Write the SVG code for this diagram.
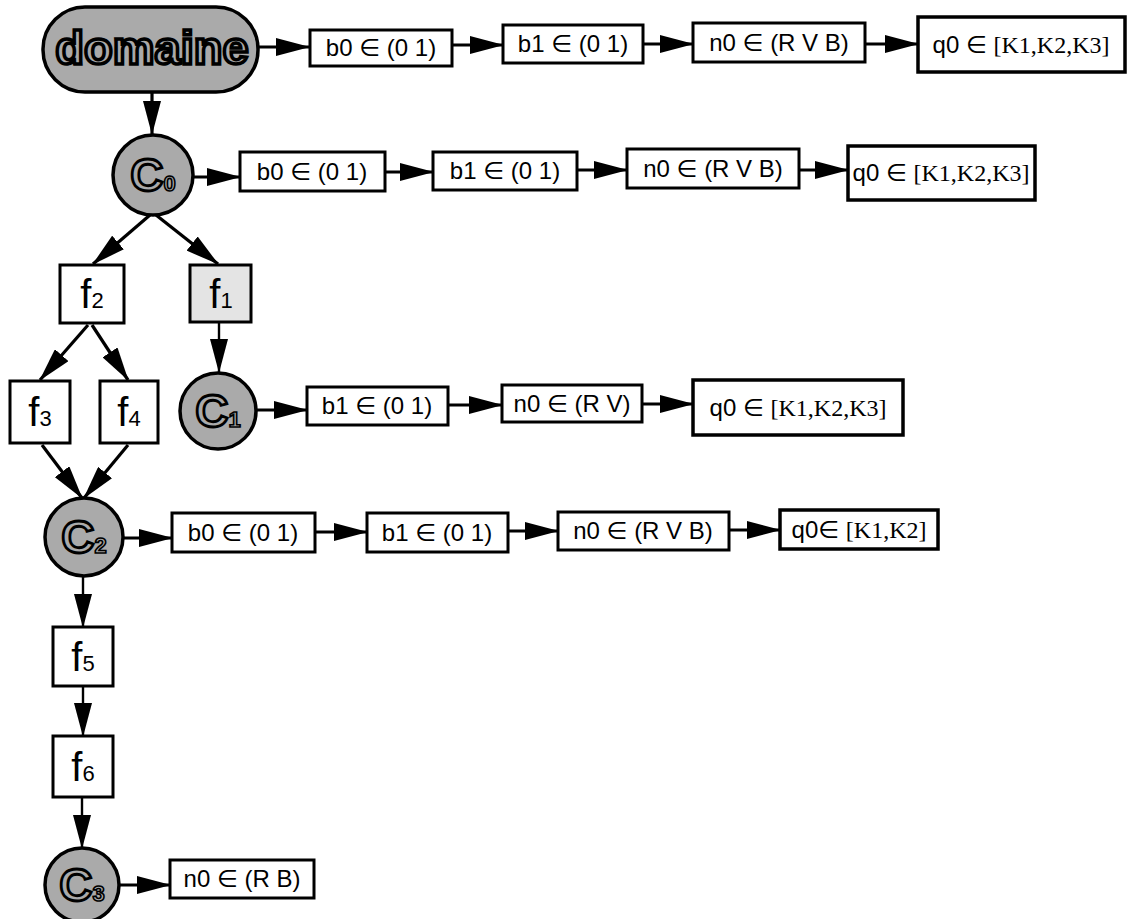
<svg xmlns="http://www.w3.org/2000/svg" width="1129" height="919" viewBox="0 0 1129 919">
<style>
.box{fill:#fff;stroke:#000;stroke-width:3}
.qbox{fill:#fff;stroke:#000;stroke-width:3.5}
.sh{fill:#aaaaaa;stroke:#000;stroke-width:3.5}
.lt{fill:#e4e4e4;stroke:#000;stroke-width:3}
.lbl{font-family:"Liberation Sans","DejaVu Sans",sans-serif;font-size:24px;fill:#000;text-anchor:middle}
.ser{font-family:"Liberation Serif","DejaVu Serif",serif}
.ff{font-family:"Liberation Sans","DejaVu Sans",sans-serif;font-size:40px;fill:#000;text-anchor:middle}
.sub{font-size:22px}
.cc{font-family:"Liberation Sans","DejaVu Sans",sans-serif;font-size:46px;fill:#aaaaaa;stroke:#000;stroke-width:2.8;text-anchor:middle;font-weight:bold}
.csub{font-size:22px;stroke-width:1.6}
.dom{font-family:"Liberation Sans","DejaVu Sans",sans-serif;font-size:47px;fill:#aaaaaa;stroke:#000;stroke-width:3.5;text-anchor:middle;font-weight:bold}
.c{stroke:#000;stroke-width:3.2;fill:none;marker-end:url(#ah)}
.c2{stroke:#000;stroke-width:2.4;fill:none;marker-end:url(#ah)}
</style>
<defs>
<marker id="ah" markerUnits="userSpaceOnUse" markerWidth="34" markerHeight="18" refX="33" refY="9" orient="auto">
<path d="M0,0 L34,9 L0,18 z" fill="#000"/>
</marker>
</defs>

<g id="connectors">
<line class="c" x1="258" y1="47" x2="309" y2="47"/>
<line class="c" x1="452" y1="45" x2="503" y2="45"/>
<line class="c" x1="643" y1="44" x2="693" y2="44"/>
<line class="c" x1="865" y1="44" x2="918" y2="44"/>
<line class="c" x1="152" y1="92" x2="152" y2="134"/>
<line class="c" x1="193" y1="177" x2="240" y2="177"/>
<line class="c" x1="385" y1="172" x2="433" y2="172"/>
<line class="c" x1="577" y1="170" x2="627" y2="170"/>
<line class="c" x1="799" y1="170" x2="848" y2="170"/>
<line class="c" x1="150" y1="215" x2="93" y2="264"/>
<line class="c" x1="156" y1="215" x2="218" y2="264"/>
<line class="c2" x1="219" y1="322" x2="219" y2="372"/>
<line class="c" x1="257" y1="410" x2="307" y2="410"/>
<line class="c" x1="448" y1="405" x2="502" y2="405"/>
<line class="c" x1="642" y1="404" x2="693" y2="404"/>
<line class="c" x1="88" y1="325" x2="40" y2="380"/>
<line class="c" x1="92" y1="325" x2="128" y2="380"/>
<line class="c" x1="42" y1="445" x2="82" y2="498"/>
<line class="c" x1="128" y1="445" x2="84" y2="498"/>
<line class="c" x1="123" y1="538" x2="172" y2="538"/>
<line class="c" x1="315" y1="532" x2="367" y2="532"/>
<line class="c" x1="508" y1="531" x2="558" y2="531"/>
<line class="c" x1="729" y1="530" x2="780" y2="530"/>
<line class="c2" x1="83" y1="576" x2="83" y2="627"/>
<line class="c2" x1="83" y1="686" x2="83" y2="736"/>
<line class="c2" x1="82" y1="797" x2="82" y2="848"/>
<line class="c" x1="119" y1="885" x2="170" y2="885"/>
</g>

<g id="domaine">
<rect class="sh" x="43" y="7" width="215" height="85" rx="42"/>
<text class="dom" x="152" y="64">domaine</text>
</g>
<g id="r1b0"><rect class="box" x="310" y="30" width="142" height="36"/><text class="lbl" x="381" y="56">b0 ∈ (0 1)</text></g>
<g id="r1b1"><rect class="box" x="503" y="25" width="140" height="38"/><text class="lbl" x="573" y="52">b1 ∈ (0 1)</text></g>
<g id="r1n0"><rect class="box" x="693" y="23" width="172" height="39"/><text class="lbl" x="779" y="51">n0 ∈ (R V B)</text></g>
<g id="r1q0"><rect class="qbox" x="918" y="17" width="207" height="55"/><text class="lbl" x="1021" y="53">q0 ∈ <tspan class="ser">[K1,K2,K3]</tspan></text></g>

<g id="C0">
<circle class="sh" cx="153" cy="175" r="40"/>
<text class="cc" x="153" y="191">C<tspan class="csub">0</tspan></text>
</g>
<g id="r2b0"><rect class="box" x="240" y="152" width="145" height="39"/><text class="lbl" x="312" y="180">b0 ∈ (0 1)</text></g>
<g id="r2b1"><rect class="box" x="433" y="152" width="144" height="38"/><text class="lbl" x="505" y="179">b1 ∈ (0 1)</text></g>
<g id="r2n0"><rect class="box" x="627" y="149" width="172" height="39"/><text class="lbl" x="713" y="177">n0 ∈ (R V B)</text></g>
<g id="r2q0"><rect class="qbox" x="848" y="146" width="187" height="54"/><text class="lbl" x="941" y="181">q0 ∈ <tspan class="ser">[K1,K2,K3]</tspan></text></g>

<g id="f2"><rect class="box" x="60" y="265" width="64" height="58"/><text class="ff" x="92" y="308">f<tspan class="sub">2</tspan></text></g>
<g id="f1"><rect class="lt" x="190" y="265" width="61" height="57"/><text class="ff" x="221" y="308">f<tspan class="sub">1</tspan></text></g>

<g id="C1">
<circle class="sh" cx="218" cy="411" r="38"/>
<text class="cc" x="218" y="427">C<tspan class="csub">1</tspan></text>
</g>
<g id="r3b1"><rect class="box" x="307" y="387" width="141" height="38"/><text class="lbl" x="377" y="414">b1 ∈ (0 1)</text></g>
<g id="r3n0"><rect class="box" x="502" y="385" width="140" height="37"/><text class="lbl" x="572" y="412">n0 ∈ (R V)</text></g>
<g id="r3q0"><rect class="qbox" x="693" y="380" width="210" height="55"/><text class="lbl" x="798" y="416">q0 ∈ <tspan class="ser">[K1,K2,K3]</tspan></text></g>

<g id="f3"><rect class="box" x="10" y="381" width="60" height="62"/><text class="ff" x="40" y="426">f<tspan class="sub">3</tspan></text></g>
<g id="f4"><rect class="box" x="100" y="381" width="58" height="62"/><text class="ff" x="129" y="426">f<tspan class="sub">4</tspan></text></g>

<g id="C2">
<circle class="sh" cx="84" cy="537" r="39"/>
<text class="cc" x="84" y="553">C<tspan class="csub">2</tspan></text>
</g>
<g id="r4b0"><rect class="box" x="172" y="513" width="143" height="39"/><text class="lbl" x="243" y="541">b0 ∈ (0 1)</text></g>
<g id="r4b1"><rect class="box" x="367" y="513" width="141" height="39"/><text class="lbl" x="437" y="541">b1 ∈ (0 1)</text></g>
<g id="r4n0"><rect class="box" x="558" y="512" width="171" height="38"/><text class="lbl" x="643" y="539">n0 ∈ (R V B)</text></g>
<g id="r4q0"><rect class="qbox" x="780" y="510" width="158" height="39"/><text class="lbl" x="859" y="538">q0∈ <tspan class="ser">[K1,K2]</tspan></text></g>

<g id="f5"><rect class="box" x="53" y="627" width="60" height="59"/><text class="ff" x="83" y="671">f<tspan class="sub">5</tspan></text></g>
<g id="f6"><rect class="box" x="53" y="736" width="60" height="61"/><text class="ff" x="83" y="781">f<tspan class="sub">6</tspan></text></g>

<g id="C3">
<circle class="sh" cx="82" cy="885" r="37"/>
<text class="cc" x="82" y="901">C<tspan class="csub">3</tspan></text>
</g>
<g id="r5n0"><rect class="box" x="170" y="860" width="144" height="38"/><text class="lbl" x="242" y="887">n0 ∈ (R B)</text></g>
</svg>
